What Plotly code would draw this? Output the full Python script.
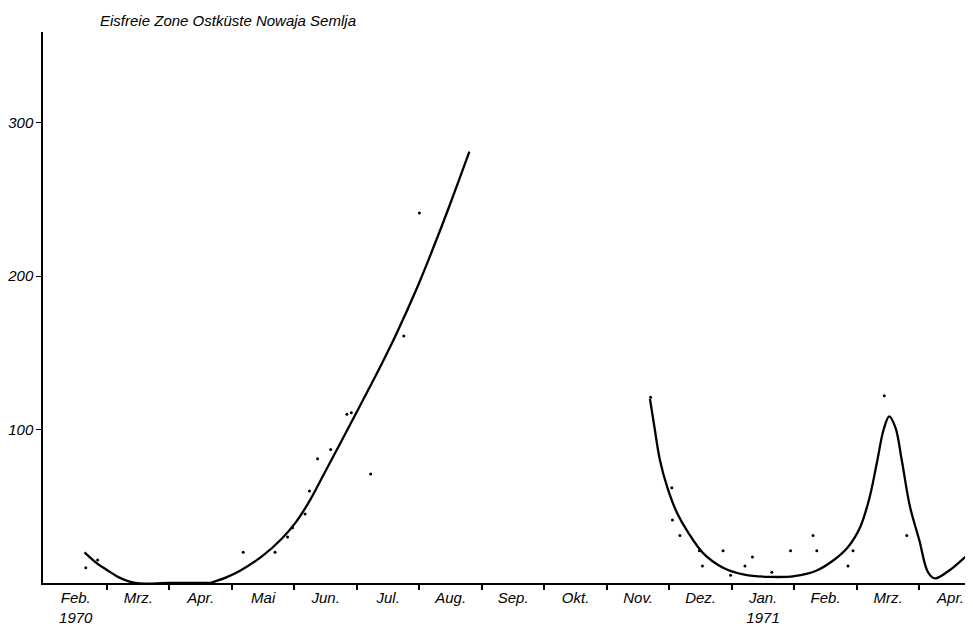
import plotly.graph_objects as go

# x in months since 1 Feb 1970
month_labels = ["Feb.<br>1970", "Mrz.", "Apr.", "Mai", "Jun.", "Jul.", "Aug.", "Sep.",
                "Okt.", "Nov.", "Dez.", "Jan.<br>1971", "Feb.", "Mrz.", "Apr."]
month_centers = [i + 0.5 for i in range(len(month_labels))]
month_bounds = list(range(1, 15))

y_ticks = [100, 200, 300]

# smoothed curve 1 (1970): decline in Feb/Mar, rise from Apr
curve1a_x = [0.64, 0.85, 1.0, 1.2, 1.45, 2.0, 2.65]
curve1a_y = [20, 12.5, 8.5, 3.5, 0, 0, 0]
curve1b_x = [2.65, 2.9, 3.13, 3.5, 3.8, 4.03, 4.25, 4.46,
             4.94, 5.4, 5.64, 5.98, 6.18, 6.4, 6.62, 6.80]
curve1b_y = [0, 3.5, 8, 18, 29, 40, 54, 70,
             107, 143, 163, 194, 214, 237, 261, 281]

# smoothed curve 2 (1970/71)
curve2_x = [9.69, 9.76, 9.85, 9.97, 10.12, 10.3, 10.54, 10.86, 11.2, 11.6, 12.0, 12.35,
            12.6, 12.85, 13.05, 13.2, 13.32, 13.43, 13.52, 13.62, 13.72, 13.85, 14.0,
            14.14, 14.25, 14.49, 14.81, 14.9]
curve2_y = [120, 102, 80, 62, 46, 33, 19.5, 10, 5.5, 4, 4.5, 8,
            14, 23, 36, 55, 78, 100, 108.5, 101, 80, 50, 28,
            7, 3, 8.5, 19.3, 21]

# observations (dots)
obs_x = [0.66, 0.85, 3.18, 3.69, 3.89, 3.97, 4.17, 4.24, 4.37, 4.58, 4.84, 4.91, 5.22, 5.75, 6.0,
         9.70, 10.04, 10.05, 10.17, 10.48, 10.53, 10.86, 10.98, 11.21, 11.33, 11.64, 11.94,
         12.30, 12.36, 12.86, 12.94, 13.44, 13.80]
obs_y = [10, 15, 20, 20, 30, 36, 45, 60, 81, 87, 110, 111, 71, 161, 241,
         121, 62, 41, 31, 21, 11, 21, 5, 11, 17, 7, 21,
         31, 21, 11, 21, 122, 31]

fig = go.Figure()
line_style = dict(color="black", width=2.3, shape="spline", smoothing=1)
for cx, cy in [(curve1a_x, curve1a_y), (curve1b_x, curve1b_y), (curve2_x, curve2_y)]:
    fig.add_trace(go.Scatter(x=cx, y=cy, mode="lines", line=line_style, hoverinfo="skip"))
fig.add_trace(go.Scatter(x=obs_x, y=obs_y, mode="markers",
                         marker=dict(color="black", size=3)))

tick_font = dict(family="Liberation Sans, Arial, sans-serif", size=15, color="black",
                 style="italic")

# the page body has an 8px margin; the figure is sized to fill the rest of the window
W, H = 965, 620
fig.update_layout(
    width=W, height=H,
    margin=dict(l=35, r=0, t=24, b=45),
    paper_bgcolor="white", plot_bgcolor="white",
    showlegend=False,
    title=dict(text="Eisfreie Zone Ostküste Nowaja Semlja",
               x=220 / W, xanchor="center", y=1 - 13 / H, yanchor="middle",
               font=dict(family="Liberation Sans, Arial, sans-serif",
                         size=15, color="black", style="italic")),
    xaxis=dict(range=[-0.024, 14.86], showgrid=False, zeroline=False,
               showline=True, linecolor="black", linewidth=2,
               tickmode="array", tickvals=month_centers, ticktext=month_labels,
               ticks="", tickfont=tick_font,
               minor=dict(tickmode="array", tickvals=month_bounds, ticks="outside",
                          ticklen=5, tickwidth=1.5, tickcolor="black", showgrid=False)),
    yaxis=dict(range=[0, 359], showgrid=False, zeroline=False,
               showline=True, linecolor="black", linewidth=1.5,
               tickmode="array", tickvals=y_ticks, ticktext=[str(v) for v in y_ticks],
               ticks="outside", ticklen=5, tickwidth=1.2, tickcolor="black",
               tickfont=tick_font),
)

fig.write_html("out.html")
